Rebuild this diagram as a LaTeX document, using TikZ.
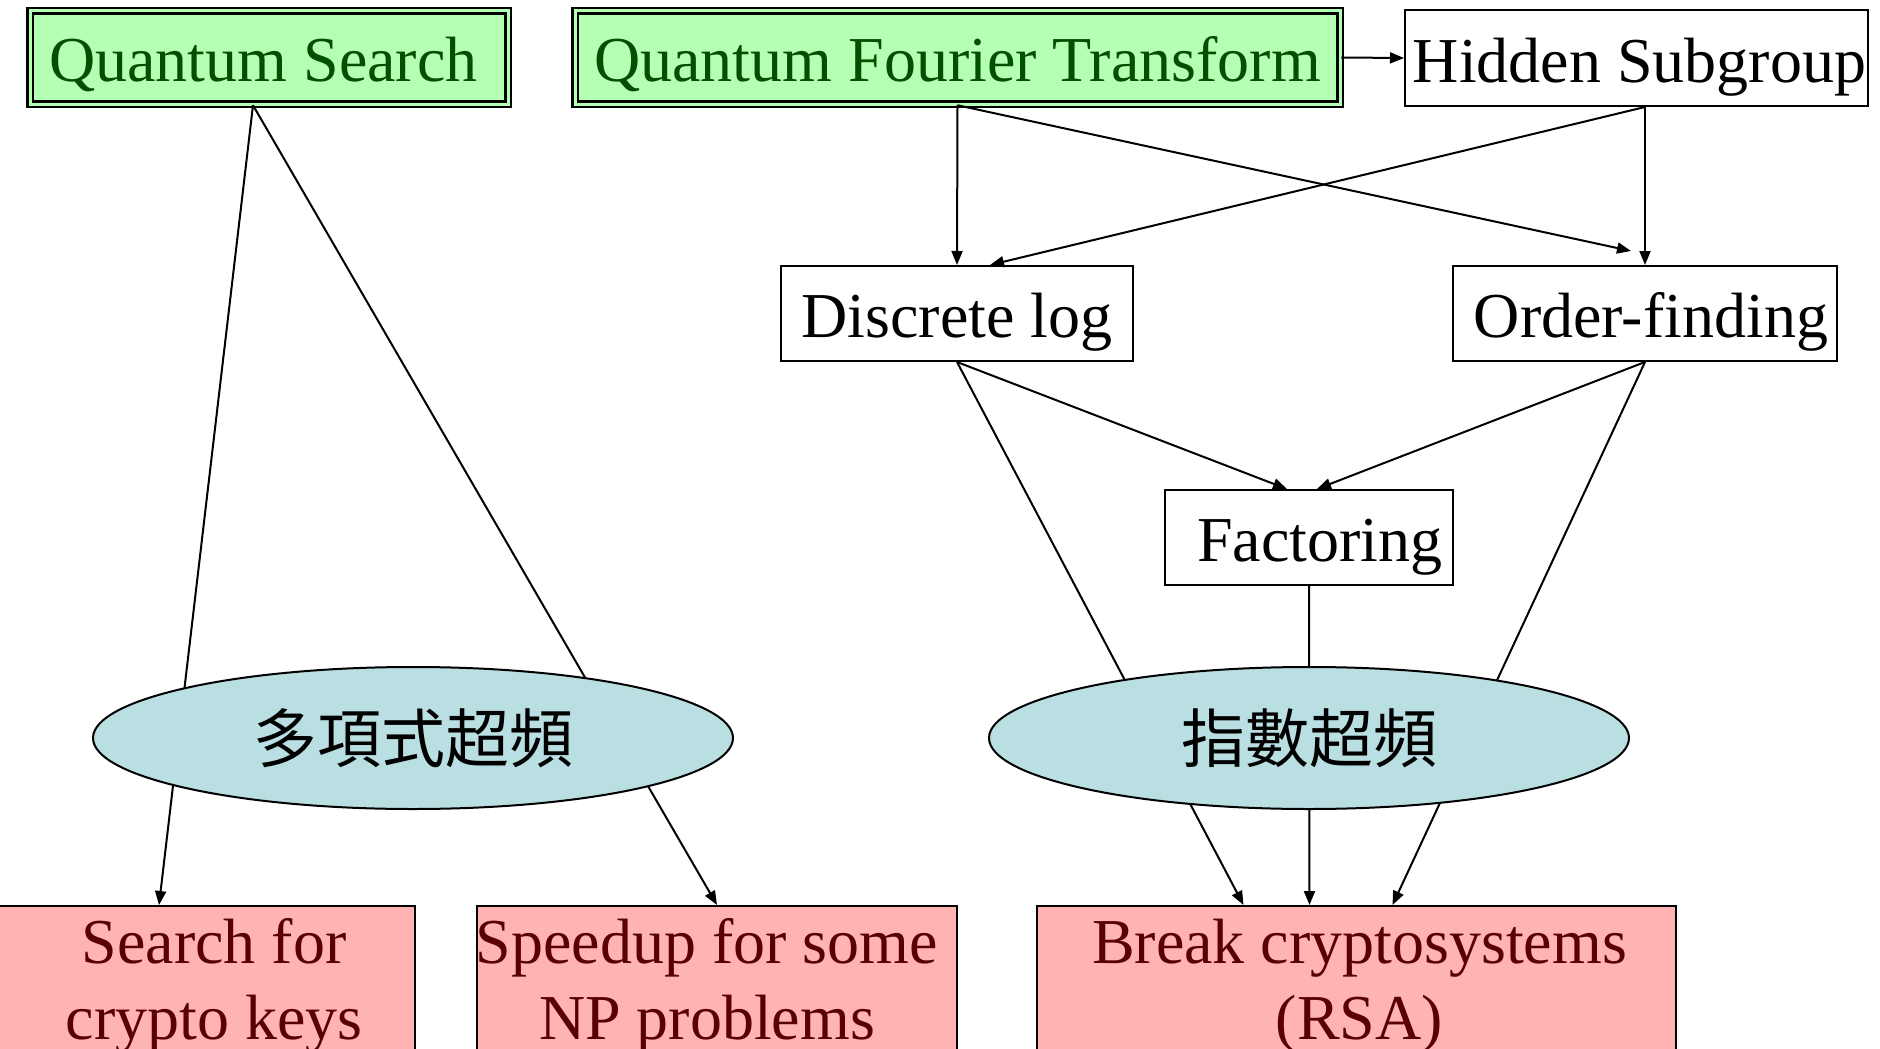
\documentclass[tikz,border=0pt]{standalone}
\usepackage{fontspec}
\setmainfont{Liberation Serif}
\newfontfamily\cjk{Noto Sans CJK TC}
\usetikzlibrary{shapes.geometric,arrows.meta}
\definecolor{qgreen}{RGB}{179,255,179}
\definecolor{qgreentext}{RGB}{0,80,0}
\definecolor{qpink}{RGB}{255,179,179}
\definecolor{qredtext}{RGB}{90,0,0}
\definecolor{qblue}{RGB}{186,223,227}

\begin{document}
\begin{tikzpicture}[x=1pt,y=-1pt,
  every node/.style={font=\fontsize{64}{76}\selectfont, inner sep=0pt},
  toolbox/.style={draw, line width=2.5pt, double=qgreen, double distance=3pt,
    fill=qgreen, text=qgreentext, minimum height=93pt,
    text height=60pt, text depth=12pt},
  plainbox/.style={draw, line width=2pt, fill=white, minimum height=95pt,
    text height=60pt, text depth=12pt},
  goalbox/.style={draw, line width=2pt, fill=qpink, text=qredtext, align=center,
    minimum height=160pt},
  speedup/.style={ellipse, draw, line width=2pt, fill=qblue, minimum width=640pt,
    minimum height=142pt, font=\cjk\fontsize{64}{76}\selectfont},
  link/.style={line width=2pt, -{Triangle[length=14pt,width=11pt]}}]

\useasboundingbox (0,0) rectangle (1880,1049);
\clip (0,0) rectangle (1880,1049);

% algorithmic tools
\node[toolbox, minimum width=478pt] (qs)  at (269,57.5)   {\hspace*{-11pt}Quantum Search};
\node[toolbox, minimum width=765pt] (qft) at (957.5,57.5) {Quantum Fourier Transform};
\node[plainbox, minimum width=463pt, minimum height=96pt] (hs) at (1636.5,58) {\hspace*{6pt}Hidden Subgroup};

% intermediate problems
\node[plainbox, minimum width=352pt] (dlog) at (957,313.5)  {Discrete log};
\node[plainbox, minimum width=384pt] (of)   at (1645,313.5) {\hspace*{12pt}Order-finding};
\node[plainbox, minimum width=288pt] (fac)  at (1309,537.5) {\hspace*{22pt}Factoring};

% applications
\node[goalbox, minimum width=416pt] (skeys) at (207,986)
  {\hspace*{14pt}Search for\\\hspace*{14pt}crypto keys};
\node[goalbox, minimum width=480pt] (spd)   at (717,986)
  {\hspace*{-20pt}Speedup for some\\\hspace*{-20pt}NP problems};
\node[goalbox, minimum width=639pt] (brk)   at (1356.5,986)
  {\hspace*{6pt}Break cryptosystems\\\hspace*{6pt}(RSA)};

% connectors
\draw[link] (qft.east) -- (hs.west);
\draw[link] ([xshift=-16pt]qs.south) -- ([xshift=-48pt]skeys.north);
\draw[link] ([xshift=-16pt]qs.south) -- (spd.north);
\draw[link] (qft.south) -- (dlog.north);
\draw[link] (qft.south) -- ([xshift=-14pt,yshift=14pt]of.north);
\draw[link] ([xshift=8.5pt]hs.south) -- (of.north);
\draw[link] ([xshift=8.5pt]hs.south) -- ([xshift=33pt]dlog.north);
\draw[link] (dlog.south) -- ([xshift=-22pt]fac.north);
\draw[link] (of.south) -- ([xshift=8pt]fac.north);
\draw[link] (dlog.south) -- ([xshift=-113pt]brk.north);
\draw[link] (fac.south) -- ([xshift=-47pt]brk.north);
\draw[link] (of.south) -- ([xshift=36pt]brk.north);

% speedup classes, drawn over the connectors
\node[speedup] (poly) at (413,738)  {多項式超頻};
\node[speedup] (expo) at (1309,738) {指數超頻};
\end{tikzpicture}
\end{document}
